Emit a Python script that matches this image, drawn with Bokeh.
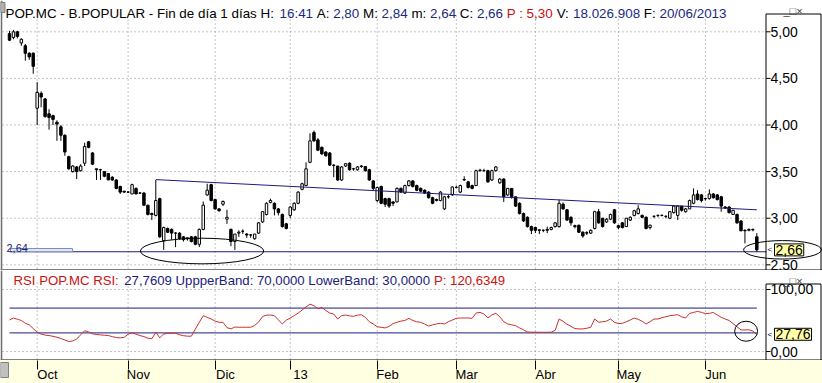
import math
from bokeh.plotting import figure
from bokeh.layouts import column
from bokeh.models import (Range1d, FixedTicker, CustomJSTickFormatter, LinearAxis, Label,
                          BoxAnnotation, ColumnDataSource, Span)
from bokeh.embed import file_html
from bokeh.resources import INLINE

# ---------------- data (daily bars, 20/09/2012 .. 20/06/2013) ----------------
open_ = [
    4.98, 4.94, 5.00, 4.88, 4.85, 4.77, 4.77, 4.18, 4.34, 4.28,
    4.12, 4.10, 4.03, 3.98, 3.89, 3.66, 3.50, 3.55, 3.51, 3.59,
    3.82, 3.70, 3.53, 3.52, 3.50, 3.48, 3.44, 3.41, 3.34, 3.29,
    3.28, 3.26, 3.32, 3.27, 3.27, 3.14, 3.05, 3.03, 3.21, 2.76,
    2.89, 2.88, 2.84, 2.84, 2.80, 2.79, 2.80, 2.80, 2.72, 2.88,
    3.25, 3.36, 3.20, 3.10, 3.15, 2.99, 2.88, 2.75, 2.84, 2.86,
    2.83, 2.82, 2.78, 2.84, 2.96, 3.04, 3.17, 3.16, 3.10, 3.04,
    2.94, 3.03, 3.09, 3.16, 3.31, 3.35, 3.60, 3.92, 3.84, 3.76,
    3.71, 3.70, 3.57, 3.56, 3.41, 3.56, 3.59, 3.53, 3.52, 3.56,
    3.555, 3.52, 3.40, 3.19, 3.34, 3.21, 3.21, 3.175, 3.175, 3.32,
    3.27, 3.35, 3.40, 3.35, 3.32, 3.30, 3.28, 3.22, 3.20, 3.19,
    3.10, 3.23, 3.25, 3.33, 3.28, 3.41, 3.39, 3.35, 3.35, 3.51,
    3.51, 3.51, 3.41, 3.51, 3.38, 3.42, 3.25, 3.32, 3.23, 3.16,
    3.05, 3.01, 2.91, 2.90, 2.875, 2.87, 2.87, 2.88, 2.91, 2.91,
    3.15, 3.09, 3.01, 2.92, 2.925, 2.85, 2.845, 2.84, 2.89, 3.07,
    3.00, 2.96, 2.99, 3.09, 2.92, 2.95, 2.91, 2.98, 3.03, 3.05,
    3.03, 3.01, 2.90, 3.02, 3.03, 3.03, 3.02, 3.00, 3.06, 3.03,
    3.13, 3.07, 3.10, 3.16, 3.26, 3.25, 3.21, 3.21, 3.26, 3.25,
    3.23, 3.12, 3.12, 3.04, 3.04, 2.97, 2.87, 2.87, 2.875, 2.80,
]
high_ = [
    5.01, 5.02, 5.01, 4.93, 4.87, 4.78, 4.78, 4.46, 4.36, 4.29,
    4.17, 4.11, 4.05, 4.00, 3.90, 3.67, 3.57, 3.56, 3.58, 3.81,
    3.83, 3.71, 3.53, 3.53, 3.50, 3.48, 3.45, 3.42, 3.35, 3.29,
    3.29, 3.37, 3.33, 3.28, 3.28, 3.14, 3.06, 3.41, 3.22, 2.91,
    2.90, 2.89, 2.85, 2.85, 2.81, 2.79, 2.81, 2.81, 2.89, 3.18,
    3.37, 3.37, 3.21, 3.11, 3.19, 3.09, 2.89, 2.83, 2.87, 2.88,
    2.84, 2.83, 2.83, 2.96, 3.07, 3.17, 3.21, 3.17, 3.11, 3.05,
    2.95, 3.13, 3.17, 3.29, 3.38, 3.60, 3.91, 3.94, 3.86, 3.77,
    3.72, 3.71, 3.58, 3.56, 3.56, 3.59, 3.60, 3.54, 3.56, 3.57,
    3.56, 3.53, 3.41, 3.34, 3.35, 3.22, 3.22, 3.18, 3.33, 3.33,
    3.36, 3.41, 3.41, 3.36, 3.33, 3.31, 3.29, 3.23, 3.21, 3.29,
    3.24, 3.25, 3.34, 3.35, 3.36, 3.45, 3.40, 3.36, 3.52, 3.53,
    3.53, 3.52, 3.52, 3.56, 3.43, 3.43, 3.32, 3.32, 3.23, 3.17,
    3.06, 3.02, 2.92, 2.91, 2.88, 2.88, 2.91, 2.91, 2.96, 3.20,
    3.17, 3.10, 3.02, 2.93, 2.93, 2.86, 2.86, 2.88, 3.08, 3.10,
    3.00, 3.00, 3.05, 3.10, 2.93, 2.96, 3.00, 3.02, 3.09, 3.14,
    3.04, 3.02, 2.93, 3.03, 3.04, 3.04, 3.03, 3.07, 3.14, 3.14,
    3.13, 3.11, 3.20, 3.32, 3.30, 3.26, 3.22, 3.31, 3.27, 3.26,
    3.24, 3.13, 3.13, 3.09, 3.05, 2.98, 2.88, 2.89, 2.89, 2.84,
]
low_ = [
    4.90, 4.92, 4.93, 4.85, 4.69, 4.70, 4.55, 4.00, 4.19, 4.08,
    3.95, 4.00, 3.83, 3.83, 3.67, 3.52, 3.49, 3.42, 3.50, 3.56,
    3.75, 3.57, 3.41, 3.41, 3.44, 3.41, 3.40, 3.31, 3.26, 3.27,
    3.27, 3.26, 3.26, 3.26, 3.13, 3.03, 2.98, 3.02, 2.79, 2.66,
    2.84, 2.77, 2.69, 2.77, 2.75, 2.76, 2.74, 2.71, 2.69, 2.87,
    3.24, 3.18, 3.09, 3.07, 3.13, 2.94, 2.70, 2.66, 2.80, 2.83,
    2.79, 2.79, 2.77, 2.83, 2.95, 3.03, 3.16, 3.03, 3.03, 2.90,
    2.88, 3.00, 3.08, 3.15, 3.30, 3.35, 3.59, 3.82, 3.72, 3.68,
    3.66, 3.56, 3.44, 3.40, 3.40, 3.55, 3.51, 3.51, 3.51, 3.54,
    3.50, 3.40, 3.30, 3.17, 3.15, 3.12, 3.11, 3.13, 3.17, 3.27,
    3.26, 3.34, 3.33, 3.29, 3.28, 3.26, 3.21, 3.15, 3.18, 3.18,
    3.09, 3.21, 3.24, 3.32, 3.27, 3.40, 3.32, 3.31, 3.35, 3.50,
    3.50, 3.38, 3.40, 3.50, 3.37, 3.175, 3.24, 3.21, 3.12, 3.04,
    2.96, 2.90, 2.83, 2.84, 2.83, 2.85, 2.84, 2.87, 2.90, 2.90,
    3.09, 2.97, 2.92, 2.89, 2.84, 2.79, 2.82, 2.83, 2.88, 2.94,
    2.90, 2.95, 2.98, 2.94, 2.88, 2.89, 2.91, 2.97, 3.02, 3.04,
    3.00, 2.88, 2.88, 3.00, 3.01, 3.02, 3.00, 2.99, 3.05, 2.98,
    3.07, 3.06, 3.10, 3.15, 3.19, 3.17, 3.19, 3.20, 3.21, 3.19,
    3.07, 3.10, 3.05, 3.04, 2.94, 2.86, 2.73, 2.86, 2.86, 2.64,
]
close_ = [
    4.91, 5.00, 4.95, 4.92, 4.77, 4.73, 4.63, 4.35, 4.30, 4.09,
    4.08, 4.06, 4.01, 3.89, 3.71, 3.53, 3.56, 3.50, 3.56, 3.77,
    3.76, 3.58, 3.52, 3.52, 3.45, 3.41, 3.41, 3.32, 3.28, 3.28,
    3.28, 3.36, 3.26, 3.27, 3.14, 3.04, 3.04, 3.19, 2.80, 2.90,
    2.85, 2.84, 2.84, 2.78, 2.77, 2.78, 2.75, 2.72, 2.88, 3.14,
    3.30, 3.19, 3.10, 3.08, 3.18, 3.01, 2.75, 2.83, 2.85, 2.86,
    2.82, 2.82, 2.83, 2.95, 3.07, 3.16, 3.19, 3.10, 3.06, 2.91,
    2.89, 3.12, 3.16, 3.28, 3.37, 3.53, 3.83, 3.83, 3.73, 3.69,
    3.67, 3.57, 3.565, 3.41, 3.55, 3.585, 3.52, 3.53, 3.55, 3.555,
    3.51, 3.41, 3.32, 3.33, 3.16, 3.15, 3.13, 3.16, 3.32, 3.28,
    3.35, 3.40, 3.34, 3.30, 3.29, 3.27, 3.22, 3.16, 3.19, 3.28,
    3.23, 3.23, 3.335, 3.33, 3.35, 3.415, 3.33, 3.32, 3.51, 3.515,
    3.51, 3.39, 3.51, 3.55, 3.42, 3.23, 3.32, 3.23, 3.13, 3.05,
    2.97, 2.91, 2.87, 2.87, 2.87, 2.87, 2.88, 2.90, 2.95, 3.16,
    3.10, 2.98, 2.95, 2.91, 2.85, 2.81, 2.84, 2.87, 3.07, 2.95,
    2.91, 2.99, 3.04, 2.95, 2.90, 2.90, 3.00, 3.01, 3.08, 3.10,
    3.01, 2.89, 2.925, 3.02, 3.03, 3.03, 3.02, 3.07, 3.13, 3.13,
    3.085, 3.10, 3.19, 3.25, 3.20, 3.19, 3.21, 3.26, 3.22, 3.20,
    3.13, 3.11, 3.06, 3.085, 2.95, 2.865, 2.865, 2.88, 2.88, 2.66,
]
rsi_ = [
    50.8, 54.0, 52.0, 50.0, 45.5, 43.0, 37.0, 31.0, 28.0, 26.5,
    25.7, 24.5, 23.0, 21.0, 18.5, 16.1, 17.0, 20.0, 27.0, 33.5,
    31.5, 28.5, 27.5, 26.8, 26.2, 25.7, 24.0, 22.5, 22.0, 22.8,
    28.0, 30.0, 28.0, 25.7, 24.0, 21.5, 20.5, 31.0, 22.0, 28.4,
    29.0, 29.5, 29.5, 27.0, 25.5, 24.7, 24.7, 36.0, 47.1, 57.7,
    55.0, 52.5, 49.0, 47.1, 47.0, 38.5, 36.4, 39.5, 39.1, 39.1,
    39.1, 39.1, 42.0, 47.5, 56.5, 58.5, 58.8, 57.7, 51.0, 44.4,
    50.5, 54.0, 57.7, 62.0, 66.8, 72.0, 76.4, 73.7, 69.0, 71.0,
    66.0, 62.0, 60.4, 52.4, 57.7, 58.8, 57.5, 56.7, 58.5, 59.3,
    55.1, 48.0, 44.4, 40.0, 39.0, 38.0, 40.5, 45.0, 47.1, 49.0,
    50.0, 53.5, 50.0, 48.0, 47.0, 44.4, 41.0, 43.0, 44.5, 45.5,
    44.4, 48.0, 50.8, 53.5, 54.0, 54.0, 54.0, 53.5, 62.0, 63.1,
    60.4, 54.0, 59.0, 61.5, 56.0, 48.0, 44.4, 43.0, 41.7, 38.0,
    35.0, 31.5, 31.1, 31.1, 31.0, 31.0, 31.0, 31.1, 34.0, 52.4,
    48.7, 44.0, 40.5, 37.0, 36.4, 36.4, 37.5, 39.1, 52.4, 47.1,
    48.0, 49.0, 52.4, 47.0, 45.0, 45.5, 48.0, 50.8, 54.0, 52.0,
    48.7, 44.4, 48.0, 52.4, 52.4, 54.5, 56.1, 57.7, 58.5, 59.3,
    56.0, 54.0, 61.5, 63.0, 64.7, 63.1, 61.0, 61.5, 63.0, 58.8,
    55.1, 52.4, 50.0, 45.0, 40.0, 34.8, 34.8, 35.0, 33.0, 27.76,
]
month_idx = [7, 30, 52, 71, 93, 113, 133, 154, 176]
month_labels = ["Oct", "Nov", "Dic", "13", "Feb", "Mar", "Abr", "May", "Jun"]
price_ticks = [2.5, 3.0, 3.5, 4.0, 4.5, 5.0]
rsi_ticks = [0, 100]
rsi_bands = [70, 30]
trend_idx = [37, 189]
trend_price = [3.414, 3.09]
support_price = 2.64
last_close = 2.66
last_rsi = 27.76
# hand-drawn ellipses: centre (bar index, value), full width (bars), full height (value)
price_ell_x = [48.7, 195.5]
price_ell_y = [2.648, 2.661]
price_ell_w = [31.2, 19.7]
price_ell_h = [0.275, 0.198]
rsi_ell_x = [186.3]
rsi_ell_y = [32.7]
rsi_ell_w = [5.8]
rsi_ell_h = [32.3]

# ---------------- layout / style ----------------
W = 822
MAIN_H = 270
RSI_H = 90
AX_H = 23
BAR0, BAR_PX = 9.0, 3.954            # x pixel of bar 0, pixels per bar
X0, X1 = -BAR0 / BAR_PX, (W - BAR0) / BAR_PX
PY0, PY1 = 2.439, 5.3358             # price at bottom / top of the price canvas
RY0, RY1 = -14.5, 130.6              # RSI at bottom / top of the RSI canvas

FONT = "Liberation Sans"
NAVY = "#1c1c7c"
VAL = "#1a2a80"
RED = "#cc1111"
GRID = "#8a8a8a"
RSI_RED = "#c83030"
YEL = "#ffffe1"


def mx(px):
    return X0 + px * (X1 - X0) / W


def my(py):
    return PY1 - py * (PY1 - PY0) / MAIN_H


def ry(py):
    return RY1 - py * (RY1 - RY0) / RSI_H


def sy(py):
    return 1 - py / AX_H


ARIAL = {' ': 278, ',': 278, '-': 333, '.': 278, '/': 278, ':': 278, 'A': 667, 'B': 667,
         'C': 722, 'F': 611, 'H': 722, 'I': 278, 'L': 556, 'M': 833, 'O': 778, 'P': 667,
         'R': 722, 'S': 667, 'U': 722, 'V': 667, 'a': 556, 'd': 556, 'e': 556, 'i': 222,
         'í': 278, 'm': 833, 'n': 556, 'o': 556, 'p': 556, 'r': 333, 's': 500, 'w': 722}


def tw(s, size):
    return sum(ARIAL.get(ch, 556) for ch in s) * size / 1000.0


def add_runs(fig, x_px, y_data, parts, size):
    x = x_px
    for txt, col in parts:
        lead = len(txt) - len(txt.lstrip())
        body = txt.strip()
        if body:
            fig.add_layout(Label(x=mx(x + tw(txt[:lead], size)), y=y_data, text=body,
                                 text_font=FONT, text_font_size=f"{size}px", text_color=col,
                                 text_baseline="alphabetic", text_align="left"))
        x += tw(txt, size)


def style_yaxis(ax, ticks):
    ax.ticker = FixedTicker(ticks=ticks)
    ax.formatter = CustomJSTickFormatter(code="return tick.toFixed(2).replace('.', ',');")
    ax.axis_line_color = None
    ax.major_tick_line_color = None
    ax.major_tick_out = 0
    ax.major_tick_in = 0
    ax.minor_tick_out = 0
    ax.minor_tick_in = 0
    ax.major_label_standoff = -52          # pull the labels back into the axis box
    ax.major_label_text_font = FONT
    ax.major_label_text_font_size = "14px"
    ax.major_label_text_color = "black"


def box(fig, l, r, t, b, fill=None, line="black"):
    fig.add_layout(BoxAnnotation(left=l, right=r, top=t, bottom=b,
                                 fill_color=fill if fill else "white",
                                 fill_alpha=1.0 if fill else 0.0,
                                 line_color=line if line else "white",
                                 line_alpha=1.0 if line else 0.0,
                                 line_width=1, line_dash="solid"))


def poly(fig, fy, pts, color="black"):
    fig.line([mx(a) for a, _ in pts], [fy(b) for _, b in pts], line_color=color, line_width=1)


def base_fig(height, yr):
    f = figure(width=W, height=height, x_range=xr, y_range=yr, output_backend="svg",
               toolbar_location=None, x_axis_type=None, y_axis_location="right",
               min_border_left=0, min_border_right=0, min_border_top=0, min_border_bottom=0,
               outline_line_color=None, background_fill_color="white",
               border_fill_color="white")
    f.grid.visible = False
    return f


xr = Range1d(X0, X1)
idx = list(range(len(close_)))
src = ColumnDataSource(dict(
    x=idx, h=high_, l=low_,
    top=[max(o, c) for o, c in zip(open_, close_)],
    bot=[min(o, c) for o, c in zip(open_, close_)],
    fill=["white" if c >= o else "black" for o, c in zip(open_, close_)],
))

# ---------------- price panel ----------------
p = base_fig(MAIN_H, Range1d(PY0, PY1))
style_yaxis(p.yaxis[0], price_ticks)
# dotted grid from the tick arrays
p.segment(x0=[mx(2)] * len(price_ticks), x1=[mx(766)] * len(price_ticks),
          y0=price_ticks, y1=price_ticks, line_color=GRID, line_dash="1 3")
p.segment(x0=month_idx, x1=month_idx, y0=[my(15)] * len(month_idx), y1=[PY0] * len(month_idx),
          line_color=GRID, line_dash="1 3")
p.segment(x0=[mx(765.5)] * len(price_ticks), x1=[mx(770)] * len(price_ticks),
          y0=price_ticks, y1=price_ticks, line_color="black")

p.segment(x0=0, x1=mx(766), y0=support_price, y1=support_price, line_color=NAVY, line_width=1)
box(p, mx(10), mx(72), my(248), support_price, fill="#e2e6f2", line="#8090b8")
p.add_layout(Label(x=mx(6), y=my(247.5), text="2,64", text_font=FONT, text_font_size="11px",
                   text_color=NAVY, text_baseline="alphabetic"))

p.segment(x0="x", y0="h", x1="x", y1="l", source=src, line_color="black", line_width=1)
p.vbar(x="x", width=0.62, top="top", bottom="bot", fill_color="fill", line_color="black",
       line_width=1, source=src)
p.line(trend_idx, trend_price, line_color=NAVY, line_width=1)
p.ellipse(x=price_ell_x, y=price_ell_y, width=price_ell_w, height=price_ell_h,
          fill_color=None, line_color="black", line_width=1)

# axis box, separator and window chrome
poly(p, my, [(765.5, 270), (765.5, 13.5), (820.5, 13.5), (820.5, 270)])
poly(p, my, [(0, 269.5), (822, 269.5)])
box(p, mx(0), mx(1.8), my(0), my(270), fill="#707070", line=None)
box(p, mx(0), mx(4.5), my(2), my(12), fill="#b0b0b0", line="#808080")
p.add_layout(Label(x=mx(774), y=last_close, text="2,66", text_font=FONT, text_font_size="14px",
                   text_color="black", text_baseline="middle", text_align="left",
                   background_fill_color="#ffffa8", border_line_color="black", padding=1))
p.add_layout(Label(x=mx(767), y=last_close, text="<", text_font=FONT, text_font_size="8px",
                   text_color="black", text_baseline="middle", text_align="left"))
p.add_layout(Label(x=mx(783), y=my(10), text="_□×", text_font=FONT, text_font_size="11px",
                   text_color="#404040", text_baseline="alphabetic"))

add_runs(p, 5, my(12.5), [
    ("POP.MC - B.POPULAR - Fin de día 1 días H: ", "black"), ("16:41", VAL),
    (" A: ", "black"), ("2,80", VAL), (" M: ", "black"), ("2,84", VAL),
    (" m: ", "black"), ("2,64", VAL), (" C: ", "black"), ("2,66", VAL),
    (" P : 5,30", RED), (" V: ", "black"), ("18.026.908", VAL),
    (" F: ", "black"), ("20/06/2013", VAL)], 13.4)

# ---------------- RSI panel ----------------
p2 = base_fig(RSI_H, Range1d(RY0, RY1))
style_yaxis(p2.yaxis[0], rsi_ticks)
p2.segment(x0=[mx(2)] * len(rsi_ticks), x1=[mx(766)] * len(rsi_ticks),
           y0=rsi_ticks, y1=rsi_ticks, line_color=GRID, line_dash="1 3")
p2.segment(x0=month_idx, x1=month_idx, y0=[ry(12)] * len(month_idx),
           y1=[RY0] * len(month_idx), line_color=GRID, line_dash="1 3")
p2.segment(x0=[mx(765.5)] * len(rsi_ticks), x1=[mx(770)] * len(rsi_ticks),
           y0=rsi_ticks, y1=rsi_ticks, line_color="black")
p2.segment(x0=[idx[0]] * len(rsi_bands), x1=[idx[-1]] * len(rsi_bands),
           y0=rsi_bands, y1=rsi_bands, line_color=NAVY, line_width=1)
p2.line(idx, rsi_, line_color=RSI_RED, line_width=1)
p2.ellipse(x=rsi_ell_x, y=rsi_ell_y, width=rsi_ell_w, height=rsi_ell_h,
           fill_color=None, line_color="black", line_width=1)
poly(p2, ry, [(765.5, 89.5), (765.5, 13.5), (820.5, 13.5), (820.5, 89.5)])
poly(p2, ry, [(0, 89.5), (822, 89.5)])
box(p2, mx(0), mx(1.8), ry(0), ry(90), fill="#707070", line=None)
p2.add_layout(Label(x=mx(774), y=last_rsi, text="27,76", text_font=FONT, text_font_size="14px",
                    text_color="black", text_baseline="middle", text_align="left",
                    background_fill_color="#ffffa8", border_line_color="black", padding=1))
p2.add_layout(Label(x=mx(767), y=last_rsi, text="<", text_font=FONT, text_font_size="8px",
                    text_color="black", text_baseline="middle", text_align="left"))
p2.add_layout(Label(x=mx(783), y=ry(10), text="_□×", text_font=FONT, text_font_size="11px",
                    text_color="#404040", text_baseline="alphabetic"))
add_runs(p2, 13, ry(10), [
    ("RSI POP.MC RSI: ", RED),
    ("27,7609 UppperBand: 70,0000 LowerBand: 30,0000 ", NAVY),
    ("P: 120,6349", RED)], 13.2)

# ---------------- date strip ----------------
p3 = figure(width=W, height=AX_H, x_range=xr, y_range=Range1d(0, 1),
            output_backend="svg", toolbar_location=None, x_axis_type=None, y_axis_type=None,
            min_border_left=0, min_border_right=0, min_border_top=0, min_border_bottom=0,
            outline_line_color=None, background_fill_color=YEL, border_fill_color=YEL)
xax = LinearAxis(
    ticker=FixedTicker(ticks=[m + 2.6 for m in month_idx], minor_ticks=month_idx),
    formatter=CustomJSTickFormatter(args=dict(names=month_labels), code="return names[index];"),
    axis_line_color=None, major_tick_out=0, major_tick_in=0,
    minor_tick_out=0, minor_tick_in=9, minor_tick_line_color="black",
    major_label_standoff=-21, major_label_text_font=FONT, major_label_text_font_size="13px",
    major_label_text_color="black")
p3.add_layout(xax, "above")
box(p3, mx(0), mx(8), sy(2), sy(17), fill="#c0c0c0", line="#808080")

layout = column(p, p2, p3, spacing=0)
open("out.html", "w").write(file_html(layout, INLINE, title="POP.MC"))
